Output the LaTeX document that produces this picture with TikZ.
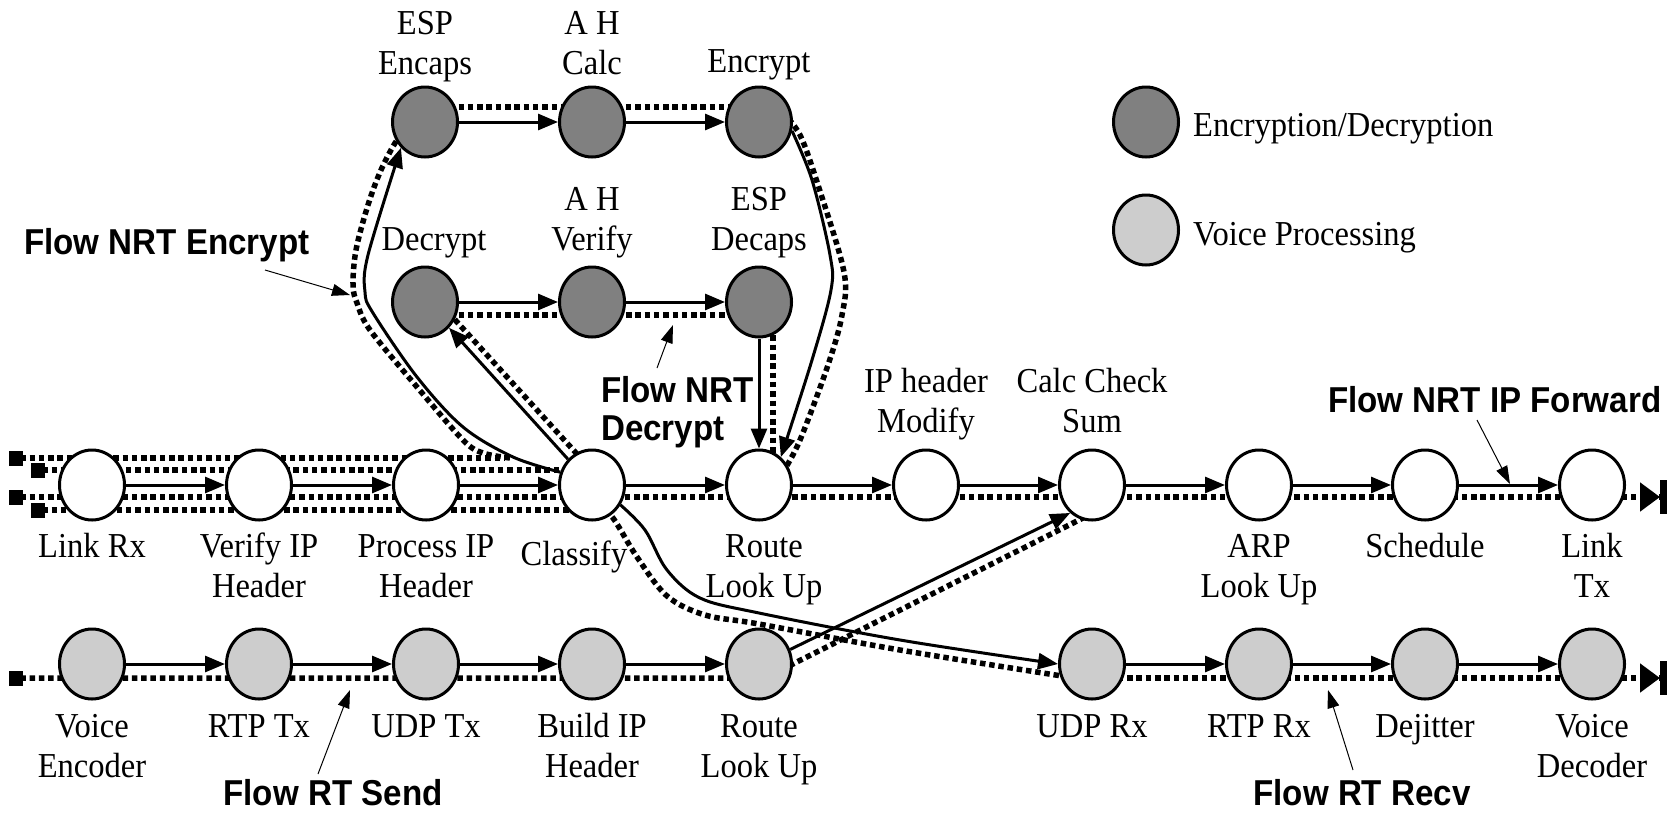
\documentclass[tikz,border=0pt]{standalone}
\usepackage{fontspec}
\setmainfont{Liberation Serif}[FakeStretch=0.93]
\newfontfamily\flowfont{Liberation Sans}[FakeStretch=0.92]
\usetikzlibrary{arrows.meta,shapes.geometric}

\definecolor{cryptgray}{RGB}{128,128,128}
\definecolor{voicegray}{RGB}{205,205,205}

\pgfdeclarelayer{flows}
\pgfsetlayers{flows,main}

\tikzset{
  stage/.style={ellipse, draw=black, line width=3pt, minimum width=65pt,
                minimum height=70pt, inner sep=0pt},
  netstage/.style={stage, fill=white},
  cryptstage/.style={stage, fill=cryptgray},
  voicestage/.style={stage, fill=voicegray},
  call/.style={line width=3pt, -{Triangle[length=20pt,width=16pt]}},
  flow/.style={line width=5.5pt, dash pattern=on 5.5pt off 3.8pt},
  flowin/.style={flow, {Square[length=14pt,width=15pt]}-},
  flowout/.style={flow, -{Triangle[length=20pt,width=28pt] Bar[width=34pt,line width=7pt]}},
  pointer/.style={line width=1pt, -{Triangle[length=18pt,width=12pt]}},
  lbl/.style={font=\fontsize{35}{40}\selectfont, inner sep=0pt, align=center},
  lblabove/.style={lbl, anchor=south},
  lblbelow/.style={lbl, anchor=north},
  flowlbl/.style={font=\flowfont\bfseries\fontsize{36}{38}\selectfont, inner sep=0pt},
}

\begin{document}
\begin{tikzpicture}[x=1pt, y=-1pt]
\useasboundingbox (0,0) rectangle (1675,812);

% ---- IP forwarding stages ----
\node[netstage] (linkrx)   at (92,485)   {};
\node[netstage] (verify)   at (259,485)  {};
\node[netstage] (procip)   at (426,485)  {};
\node[netstage] (classify) at (592,485)  {};
\node[netstage] (route)    at (759,485)  {};
\node[netstage] (ipmod)    at (926,485)  {};
\node[netstage] (cksum)    at (1092,485) {};
\node[netstage] (arp)      at (1259,485) {};
\node[netstage] (sched)    at (1425,485) {};
\node[netstage] (linktx)   at (1592,485) {};

% ---- IPsec stages ----
\node[cryptstage] (espenc)  at (425,122) {};
\node[cryptstage] (ahcalc)  at (592,122) {};
\node[cryptstage] (encrypt) at (759,122) {};
\node[cryptstage] (decrypt) at (425,302) {};
\node[cryptstage] (ahver)   at (592,302) {};
\node[cryptstage] (espdec)  at (759,302) {};

% ---- voice stages ----
\node[voicestage] (venc)    at (92,664)   {};
\node[voicestage] (rtptx)   at (259,664)  {};
\node[voicestage] (udptx)   at (426,664)  {};
\node[voicestage] (buildip) at (592,664)  {};
\node[voicestage] (route2)  at (759,664)  {};
\node[voicestage] (udprx)   at (1092,664) {};
\node[voicestage] (rtprx)   at (1259,664) {};
\node[voicestage] (dejit)   at (1425,664) {};
\node[voicestage] (vdec)    at (1592,664) {};

% ---- legend ----
\node[cryptstage] (legcrypt) at (1146,122) {};
\node[voicestage] (legvoice) at (1146,230) {};
\node[lbl, anchor=base west] (legcrypttxt) at (1193,136) {Encryption/Decryption};
\node[lbl, anchor=base west] (legvoicetxt) at (1193,245) {Voice Processing};

% ---- stage names ----
\node[lblabove] (tespenc)  at (425,87)  {ESP\\Encaps\strut};
\node[lblabove] (tahcalc)  at (592,87)  {A H\\Calc\strut};
\node[lblabove] (tencrypt) at (759,85)  {Encrypt\strut};
\node[lblabove] (tdecrypt) at (434,263) {Decrypt\strut};
\node[lblabove] (tahver)   at (592,263) {A H\\Verify\strut};
\node[lblabove] (tespdec)  at (759,263) {ESP\\Decaps\strut};
\node[lblabove] (tipmod)   at (926,445) {IP header\\Modify\strut};
\node[lblabove] (tcksum)   at (1092,445) {Calc Check\\Sum\strut};

\node[lblbelow] (tlinkrx)   at (92,529)   {\strut Link Rx};
\node[lblbelow] (tverify)   at (259,529)  {\strut Verify IP\\Header};
\node[lblbelow] (tprocip)   at (426,529)  {\strut Process IP\\Header};
\node[lblbelow] (tclassify) at (574,537)  {\strut Classify};
\node[lblbelow] (troute)    at (764,529)  {\strut Route\\Look Up};
\node[lblbelow] (tarp)      at (1259,529) {\strut ARP\\Look Up};
\node[lblbelow] (tsched)    at (1425,529) {\strut Schedule};
\node[lblbelow] (tlinktx)   at (1592,529) {\strut Link\\Tx};

\node[lblbelow] (tvenc)    at (92,709)   {\strut Voice\\Encoder};
\node[lblbelow] (trtptx)   at (259,709)  {\strut RTP Tx};
\node[lblbelow] (tudptx)   at (426,709)  {\strut UDP Tx};
\node[lblbelow] (tbuildip) at (592,709)  {\strut Build IP\\Header};
\node[lblbelow] (troute2)  at (759,709)  {\strut Route\\Look Up};
\node[lblbelow] (tudprx)   at (1092,709) {\strut UDP Rx};
\node[lblbelow] (trtprx)   at (1259,709) {\strut RTP Rx};
\node[lblbelow] (tdejit)   at (1425,709) {\strut Dejitter};
\node[lblbelow] (tvdec)    at (1592,709) {\strut Voice\\Decoder};

% ---- flow names ----
\node[flowlbl, anchor=base west] (fnrtenc) at (24,254) {Flow NRT Encrypt};
\node[flowlbl, anchor=north west, align=left] (fnrtdec) at (601,376) {Flow NRT\\Decrypt};
\node[flowlbl, anchor=base west] (fnrtfwd) at (1328,412) {Flow NRT IP Forward};
\node[flowlbl, anchor=base] (frtsend) at (333,805) {Flow RT Send};
\node[flowlbl, anchor=base] (frtrecv) at (1362,805) {Flow RT Recv};

% ---- call sequence ----
\draw[call] (linkrx) -- (verify);
\draw[call] (verify) -- (procip);
\draw[call] (procip) -- (classify);
\draw[call] (classify) -- (route);
\draw[call] (route) -- (ipmod);
\draw[call] (ipmod) -- (cksum);
\draw[call] (cksum) -- (arp);
\draw[call] (arp) -- (sched);
\draw[call] (sched) -- (linktx);

\draw[call] (espenc) -- (ahcalc);
\draw[call] (ahcalc) -- (encrypt);
\draw[call] (decrypt) -- (ahver);
\draw[call] (ahver) -- (espdec);
\draw[call] (espdec.south) -- (route.north);
\draw[call] (classify.north west) -- (decrypt.south east);
\draw[call] plot[smooth, tension=0.55] coordinates
  {(classify.158) (513,457) (463,427) (417,377) (373,313) (365,292) (368,255) (espenc.south west)};
\draw[call] plot[smooth, tension=0.55] coordinates
  {(encrypt.-15) (812,180) (830,255) (831,290) (812,360) (route.52)};

\draw[call] (venc) -- (rtptx);
\draw[call] (rtptx) -- (udptx);
\draw[call] (udptx) -- (buildip);
\draw[call] (buildip) -- (route2);
\draw[call] (route2.25) -- (cksum.-128);
\draw[call] plot[smooth, tension=0.55] coordinates
  {(classify.-35) (645,530) (667,570) (700,598) (759,613) (900,640) (udprx.west)};
\draw[call] (udprx) -- (rtprx);
\draw[call] (rtprx) -- (dejit);
\draw[call] (dejit) -- (vdec);

% ---- pointers from flow names ----
\coordinate (encTail) at (265,270);  \coordinate (encTip) at (350,295);
\coordinate (decTail) at (657,368);  \coordinate (decTip) at (673,325);
\coordinate (fwdTail) at (1477,420); \coordinate (fwdTip) at (1510,484);
\coordinate (sndTail) at (318,774);  \coordinate (sndTip) at (350,690);
\coordinate (rcvTail) at (1353,770); \coordinate (rcvTip) at (1328,690);
\draw[pointer] (encTail) -- (encTip);
\draw[pointer] (decTail) -- (decTip);
\draw[pointer] (fwdTail) -- (fwdTip);
\draw[pointer] (sndTail) -- (sndTip);
\draw[pointer] (rcvTail) -- (rcvTip);

% ---- packet flows ----
\begin{pgfonlayer}{flows}
  % NRT encrypt
  \draw[flowin] (9,458) -- (505,458);
  \draw[flow] plot[smooth, tension=0.55] coordinates
    {(510,458) (483,453) (463,440) (417,387) (370,330) (357,303) (353,285) (356,250) (368,205) (381,170) (397,140) (412,124)};
  \draw[flow] (412,107) -- (780,107);
  \draw[flow] plot[smooth, tension=0.55] coordinates
    {(782,112) (800,135) (818,185) (844,272) (842,315) (828,365) (800,440) (783,472)};
  % NRT decrypt
  \draw[flowin] (31,470) -- (590,470);
  \draw[flow] (583.5,461.2) -- (448.3,312.4);
  \draw[flow] (440,315) -- (773,315) -- (773,470);
  % NRT IP forward
  \draw[flowin] (9,497) -- (1603,497);
  \draw[flowout] (1603,497) -- (1667,497);
  % RT receive
  \draw[flowin] (31,510) -- (590,510);
  \draw[flow] plot[smooth, tension=0.55] coordinates
    {(598,505) (613,518) (637,557) (667,596) (705,615) (759,624) (900,650) (1062,676)};
  \draw[flow] (1062,678) -- (1603,678);
  \draw[flowout] (1603,678) -- (1667,678);
  % RT send
  \draw[flowin] (9,678) -- (765,678) -- (1085,517);
\end{pgfonlayer}
\end{tikzpicture}
\end{document}
